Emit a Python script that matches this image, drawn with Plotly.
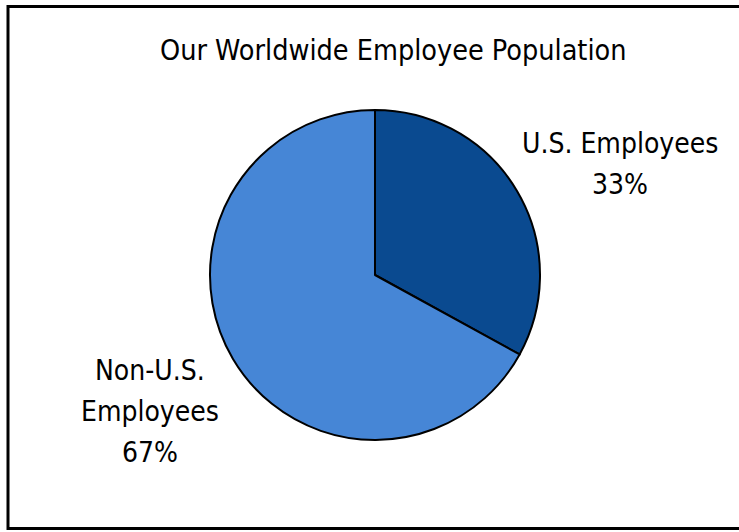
import plotly.graph_objects as go

title = "Our Worldwide Employee Population"
categories = ["U.S. Employees", "Non-U.S. Employees"]
label_lines = [["U.S. Employees"], ["Non-U.S.", "Employees"]]
values = [33, 67]
colors = ["#0A4A90", "#4686D6"]

FONT = "DejaVu Sans Condensed, Liberation Sans Narrow, sans-serif"
W, H = 739, 532

fig = go.Figure()
fig.add_trace(go.Pie(
    labels=categories,
    values=values,
    sort=False,
    direction="clockwise",
    rotation=0,
    textinfo="none",
    hoverinfo="label+percent",
    marker=dict(colors=colors, line=dict(color="black", width=2)),
    domain=dict(x=[209 / W, 541 / W], y=[92 / H, 422 / H]),
    showlegend=False,
))

total = sum(values)
# label block: centre x and first-line centre y (pixels), line step 41 px
pos = [(620, 143), (150, 370)]
for lines, v, (x, y0) in zip(label_lines, values, pos):
    texts = lines + [f"{round(100 * v / total)}%"]
    for i, t in enumerate(texts):
        fig.add_annotation(
            x=x / W, y=1 - (y0 + 41 * i) / H, xref="paper", yref="paper",
            text=t, showarrow=False, xanchor="center", yanchor="middle",
            font=dict(family=FONT, size=28, color="black"),
        )

fig.add_annotation(
    x=393 / W, y=1 - 50 / H, xref="paper", yref="paper",
    text=title, showarrow=False, xanchor="center", yanchor="middle",
    font=dict(family=FONT, size=28.5, color="black"),
)

fig.add_shape(type="rect", xref="paper", yref="paper",
              x0=8 / W, x1=1.02, y0=1 - 528.5 / H, y1=1 - 6.5 / H,
              line=dict(color="black", width=3), fillcolor="rgba(0,0,0,0)")

fig.update_layout(
    width=W, height=H,
    margin=dict(l=0, r=0, t=0, b=0),
    paper_bgcolor="white", plot_bgcolor="white",
)

fig.write_html("out.html")
